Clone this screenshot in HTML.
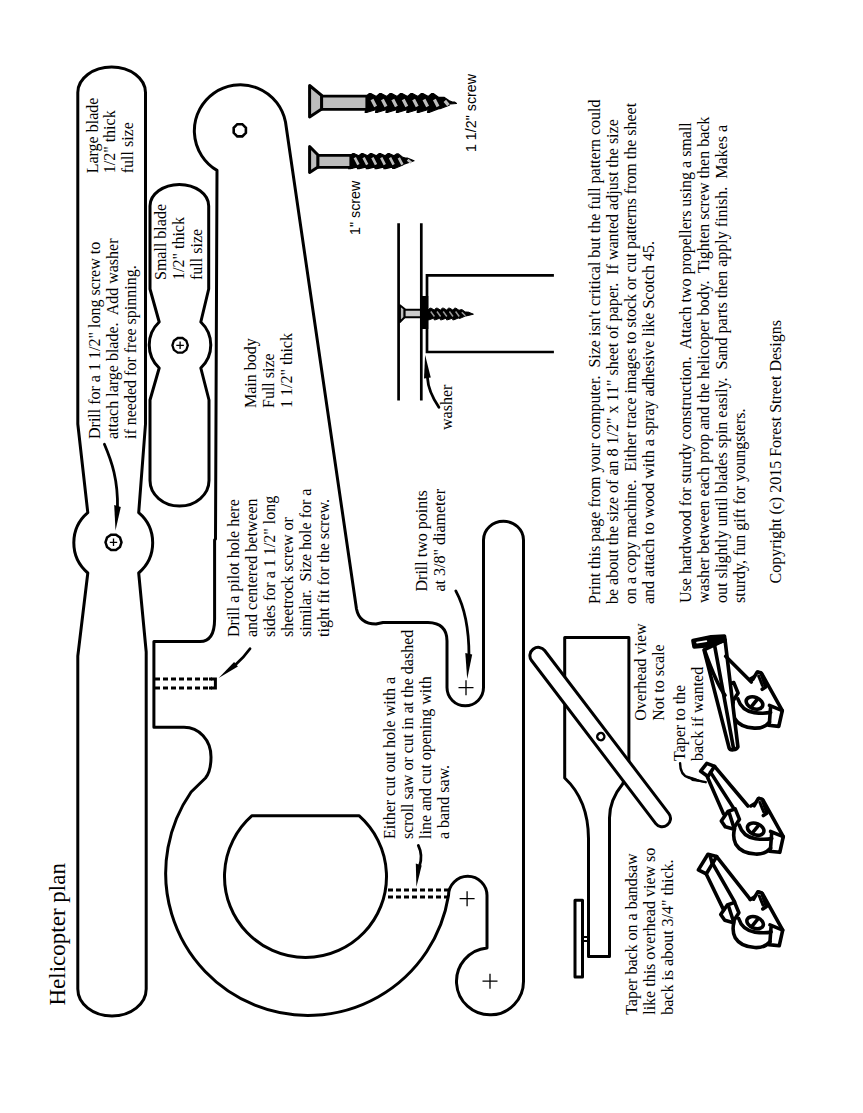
<!DOCTYPE html>
<html><head><meta charset="utf-8">
<style>
html,body{margin:0;padding:0;background:#fff;}
svg{display:block;}
text{white-space:pre;font-family:"Liberation Serif",serif;font-size:16px;fill:#000;}
</style></head>
<body>
<svg width="863" height="1113" viewBox="0 0 863 1113">
<rect width="863" height="1113" fill="#fff"/>
<g fill="none" stroke="#000" stroke-width="3" stroke-linejoin="round">
<!-- large blade -->
<path id="lb" d="M77.8,92.5 A33.85,25.5 0 0 1 145.5,92.5 L145.5,424 L138.7,512.7 A39.5,39.5 0 0 1 138.7,573 L146.2,652 L146.2,989 A34.2,27 0 0 1 77.8,989 L77.8,656 L87.8,573 A39.5,39.5 0 0 1 87.8,512.7 L77.8,424 Z"/>
<!-- small blade -->
<path id="sb" d="M150,206 A29.35,21.5 0 0 1 208.7,206 L208.7,289 L200.8,322 A31.5,31.5 0 0 1 200.8,368 L209,400 L209,480.5 A29.5,25.5 0 0 1 150,480.5 L150,400 L159.2,368 A31.5,31.5 0 0 1 159.2,322 L150,289 Z"/>
<!-- main body -->
<path id="mb" d="M217,170.4 A46,46 0 1 1 285.5,122 L356.5,609 Q359.5,624 376,624 L383,622.5 L428,622.5 Q447,623 447,641 L447,687.6 A18.25,18.25 0 0 0 483.5,687.6 L483.5,540 A20,18.7 0 0 1 523.5,540 L523.5,981 A33.5,33.5 0 1 1 487,948 L487,895.6 A19.25,19.25 0 0 0 448.5,895.6 A142.3,142.3 0 1 1 191.1,792 L205.5,778 C209.5,773 211,766 211,757 C211,740 199,727.3 184,727.3 L153.9,727.3 L153.9,641.5 L200,641.5 Q214.6,641.5 214.6,619 L214.6,540 L215.5,539 Z"/>
<!-- inner hole -->
<path d="M252,815.7 L359,815.7 A81,81 0 1 1 252,815.7 Z"/>
</g>
<!-- holes / pluses -->
<g fill="none" stroke="#000" stroke-width="2.5">
<polygon points="245.90,132.83 242.33,136.40 237.27,136.40 233.70,132.83 233.70,127.77 237.27,124.20 242.33,124.20 245.90,127.77" stroke-width="2.6"/>
<polygon points="121.50,542.30 119.97,547.00 115.97,549.91 111.03,549.91 107.03,547.00 105.50,542.30 107.03,537.60 111.03,534.69 115.97,534.69 119.97,537.60" stroke-width="2.5"/>
<polygon points="187.80,345.30 186.33,349.83 182.48,352.62 177.72,352.62 173.87,349.83 172.40,345.30 173.87,340.77 177.72,337.98 182.48,337.98 186.33,340.77" stroke-width="2.3"/>
</g>
<g stroke="#000" stroke-width="1.3">
<path d="M109.8,542.3 H117.2 M113.5,538.6 V546"/>
<path d="M176.3,345.3 H183.9 M180.1,341.5 V349.1"/>
<path d="M458.5,687.7 H473.5 M466,680.2 V695.2"/>
<path d="M459.6,898.7 H474.6 M467.1,891.2 V906.2"/>
<path d="M482.5,981.2 H497.5 M490,973.7 V988.7"/>
</g>
<!-- dashed -->
<g fill="none" stroke="#000" stroke-width="3" stroke-dasharray="5,3">
<path d="M155,679.1 H212 M155,688.1 H212"/><path d="M209,679.1 H215.4 V688.1 H209" stroke-dasharray="none"/>
<path d="M388,890 H449 M388,897 H449"/>
</g>

<!-- arrows -->
<g fill="none" stroke="#000" stroke-width="2.8" stroke-linecap="round">
<path d="M104.4,444.3 C112,462 118,480 117.5,508"/>
<path d="M250,648.7 Q244,657 236,664.3"/>
<path d="M455.8,590.9 C464,606 469,628 469,656"/>
<path d="M418.3,845.4 C421.5,852 421.5,860 419.5,866"/>
<path d="M438.9,407.3 C432,397 428,388 427.5,378"/>
<path d="M680.1,763.1 C680,772 683,776 689,777.8 C695,779.5 700,781 705.7,782.2" stroke-width="2.4"/>
</g>
<g fill="#000" stroke="none">
<path d="M114.2,505 L120.8,507 L115.5,530.5 Z"/>
<path d="M237.9,666.6 L234.1,662 L218.7,678 Z"/>
<path d="M465.3,653 L472.2,654.5 L467.2,679 Z"/>
<path d="M415.8,863.5 L421.7,865.5 L416.4,887 Z"/>
<path d="M424,378.5 L430.8,377.5 L425.1,355.1 Z"/>
<path d="M687,775.5 L695,778 L706,782.8 L692,781 Z"/>
</g>
<!-- screws -->
<g stroke="#000" stroke-linejoin="round">
<path d="M309.6,85.5 L321.7,95.5 L321.7,109 L309.6,117 Z" fill="#bdbdbd" stroke-width="3"/>
<path d="M321.7,96.2 H368 V109.4 H321.7 Z" fill="#bdbdbd" stroke-width="2.8"/>
<path d="M366.0,96.5 L369.1,93.7 L371.2,93.7 L376.4,96.5 L379.5,93.7 L381.6,93.7 L386.8,96.5 L389.9,93.7 L392.0,93.7 L397.2,96.5 L400.3,93.7 L402.4,93.7 L407.6,96.5 L410.7,93.7 L412.8,93.7 L418.0,96.5 L421.1,93.7 L423.2,93.7 L428.4,96.5 L431.5,93.7 L433.6,93.7 L438.8,97.4 L441.9,97.3 L444.0,97.3 L449.2,100.7 L452.3,102.0 L454.4,102.0 L456.5,103.5 L450.4,104.0 L448.3,104.0 L449.2,105.3 L440.0,108.7 L437.9,108.7 L438.8,108.6 L429.6,112.3 L427.5,112.3 L428.4,109.5 L419.2,112.3 L417.1,112.3 L418.0,109.5 L408.8,112.3 L406.7,112.3 L407.6,109.5 L398.4,112.3 L396.3,112.3 L397.2,109.5 L388.0,112.3 L385.9,112.3 L386.8,109.5 L377.6,112.3 L375.5,112.3 L376.4,109.5 L367.2,112.3 L365.1,112.3 L366.0,109.5 Z" fill="#000" stroke-width="1.2"/>
<path d="M309.6,146.5 L318,155 L318,167 L309.6,172.5 Z" fill="#bdbdbd" stroke-width="3"/>
<path d="M318,155.3 H352 V167.3 H318 Z" fill="#bdbdbd" stroke-width="2.8"/>
<path d="M350.0,155.7 L352.6,153.7 L354.4,153.7 L358.8,155.7 L361.4,153.7 L363.2,153.7 L367.6,155.7 L370.2,153.7 L372.0,153.7 L376.4,155.7 L379.0,153.7 L380.8,153.7 L385.2,155.7 L387.8,153.7 L389.6,153.7 L394.0,155.7 L396.6,153.9 L398.4,153.9 L402.8,157.4 L405.4,158.0 L407.2,158.0 L414.0,160.8 L403.2,164.4 L401.4,164.4 L402.8,165.0 L394.4,168.5 L392.6,168.5 L394.0,166.7 L385.6,168.7 L383.8,168.7 L385.2,166.7 L376.8,168.7 L375.0,168.7 L376.4,166.7 L368.0,168.7 L366.2,168.7 L367.6,166.7 L359.2,168.7 L357.4,168.7 L358.8,166.7 L350.4,168.7 L348.6,168.7 L350.0,166.7 Z" fill="#000" stroke-width="1.2"/>
<path d="M399.9,305.3 L404.6,309 L404.6,317.3 L399.9,322 Z" fill="#bdbdbd" stroke-width="2"/>
<path d="M404.6,309.8 H421 V317.2 H404.6 Z" fill="#ccc" stroke-width="2"/>
<path d="M428.0,310.0 L429.9,308.2 L431.1,308.2 L434.2,310.0 L436.1,308.2 L437.3,308.2 L440.4,310.0 L442.3,308.2 L443.5,308.2 L446.6,310.0 L448.5,308.2 L449.7,308.2 L452.8,310.0 L454.7,308.2 L455.9,308.2 L459.0,310.3 L460.9,309.7 L462.1,309.7 L465.2,311.9 L467.1,312.1 L468.3,312.1 L473.4,314.2 L466.3,315.9 L465.1,315.9 L465.2,316.1 L460.1,318.3 L458.9,318.3 L459.0,317.7 L453.9,319.8 L452.7,319.8 L452.8,318.0 L447.7,319.8 L446.5,319.8 L446.6,318.0 L441.5,319.8 L440.3,319.8 L440.4,318.0 L435.3,319.8 L434.1,319.8 L434.2,318.0 L429.1,319.8 L427.9,319.8 L428.0,318.0 Z" fill="#000" stroke-width="1"/>
</g>
<g fill="none" stroke="#bdbdbd" stroke-width="3.2">
<path d="M372.0,99.5 L375.6,106.5 M382.4,99.5 L386.0,106.5 M392.8,99.5 L396.4,106.5 M403.2,99.5 L406.8,106.5 M413.6,99.5 L417.2,106.5 M424.0,99.5 L427.6,106.5 M434.4,99.5 L438.0,106.5 M444.8,100.9 L448.4,105.1"/>
<path d="M354.8,157.7 L358.4,164.7 M363.6,157.7 L367.2,164.7 M372.4,157.7 L376.0,164.7 M381.2,157.7 L384.8,164.7 M390.0,157.7 L393.6,164.7 M398.8,157.8 L402.4,164.6 M407.6,159.7 L411.2,162.7" stroke-width="2.6"/>
</g>
<g fill="none" stroke="#999" stroke-width="1.5"><path d="M430.8,311.5 L434.4,316.5 M437.0,311.5 L440.6,316.5 M443.2,311.5 L446.8,316.5 M449.4,311.5 L453.0,316.5 M455.6,311.5 L459.2,316.5 M461.8,312.2 L465.4,315.8"/></g>
<!-- cross section -->
<g fill="none" stroke="#000" stroke-width="2.7">
<path d="M398.6,223.2 V400.5 M421.3,223.2 V400.5"/>
<path d="M553.9,275.4 H427 V352 H553.9"/>
</g>
<rect x="421" y="296" width="7.3" height="33" fill="#000"/>
<!-- overhead view -->
<g fill="none" stroke="#000" stroke-width="3" stroke-linejoin="round">
<path d="M564.7,637.5 H628.9 V765 L622.8,783.8 Q609.5,800 609.5,818 V956.5 H588.5 V838.6 Q588.3,800 564.7,778 Z" fill="#fff"/>
<rect x="575" y="900.3" width="7.5" height="76.7" fill="#fff"/>
<path d="M583,937 H588.5 M583,941 H588.5" stroke-width="1.8"/>
<g transform="translate(600.8,736.6) rotate(52.7)">
<rect x="-110.5" y="-7.5" width="221" height="16.5" rx="8" fill="#fff"/>
<circle cx="0" cy="0" r="3.6" stroke-width="2.4"/>
</g>
</g>

<!-- helicopters -->
<defs>
<g id="hbody" fill="none" stroke="#000" stroke-width="31" stroke-linejoin="round" stroke-linecap="round">
<path d="M520,470 L570,440 L592,405 L625,420 L800,735 L770,870 L680,860 L690,835 C660,870 620,888 560,885 C480,880 420,850 390,800 C370,760 365,720 380,665"/>
<path d="M265,600 L322,518 L385,495 L422,585 L368,668 L300,650 Z" fill="#fff"/>
<path d="M335,535 L372,650"/>
<path d="M420,635 C440,700 480,740 560,752 C620,760 660,760 700,750"/>
<path d="M690,690 L800,735 M700,700 L690,835"/>
<path d="M548,468 L585,405 L618,412 L660,530 L628,552" fill="#fff"/><path d="M598,440 L632,525" stroke-width="26" stroke-dasharray="14,10"/>
<ellipse cx="562" cy="670" rx="74" ry="49" transform="rotate(22 562 670)"/>
<path d="M532,705 L585,640"/>
</g>
</defs>
<!-- H3 -->
<g transform="translate(690,845) scale(0.11588)">
<use href="#hbody"/>
<g fill="none" stroke="#000" stroke-width="31" stroke-linejoin="round" stroke-linecap="round">
<path d="M72,215 L155,80 L230,100 L140,250 Z" fill="#fff"/>
<path d="M170,85 L190,150"/>
<path d="M140,250 L290,560 M230,100 L520,470 M190,150 L385,490"/>
</g>
</g>
<!-- H2 -->
<g transform="translate(690,755) scale(0.11588)">
<g transform="translate(5,-30)"><use href="#hbody"/></g>
<g fill="none" stroke="#000" stroke-width="31" stroke-linejoin="round" stroke-linecap="round">
<path d="M92,140 L145,72 L212,98 L155,185 Z" fill="#fff"/>
<path d="M150,190 L290,510 M212,98 L500,440 M178,150 L380,465"/>
</g>
</g>
<!-- H1 -->
<g transform="translate(690,630) scale(0.11682)">
<g transform="translate(-10,-45)"><use href="#hbody"/></g>
<g fill="none" stroke="#000" stroke-width="31" stroke-linejoin="round" stroke-linecap="round">
<path d="M120,170 L335,1010 C345,1035 395,1030 410,1000 L300,85 Z" fill="#fff"/>
<path d="M210,130 L372,1010"/><path d="M305,225 L525,445"/><path d="M125,175 C180,330 240,480 300,560"/>
<path d="M25,90 L180,58 L295,52 L300,88 L160,135 L35,145 Z" fill="#000"/><path d="M60,108 L140,95" stroke="#fff" stroke-width="14"/>
</g>
</g>
<!-- texts -->
<g transform="translate(97.6,173.3) rotate(-90)"><text><tspan x="0" y="0">Large blade</tspan><tspan x="0" y="17.6">1/2" thick</tspan><tspan x="0" y="35.2">full size</tspan></text></g>
<g transform="translate(166.4,280) rotate(-90)"><text><tspan x="0" y="0">Small blade</tspan><tspan x="0" y="17.8">1/2" thick</tspan><tspan x="0" y="35.6">full size</tspan></text></g>
<g transform="translate(99.6,439) rotate(-90)"><text><tspan x="0" y="0">Drill for a 1 1/2" long screw to</tspan><tspan x="0" y="18">attach large blade.  Add washer</tspan><tspan x="0" y="36">if needed for free spinning.</tspan></text></g>
<g transform="translate(256,408) rotate(-90)"><text><tspan x="0" y="0">Main body</tspan><tspan x="0" y="18">Full size</tspan><tspan x="0" y="36">1 1/2" thick</tspan></text></g>
<g transform="translate(239.2,637) rotate(-90)"><text><tspan x="0" y="0">Drill a pilot hole here</tspan><tspan x="0" y="18">and centered between</tspan><tspan x="0" y="36">sides for a 1 1/2" long</tspan><tspan x="0" y="54">sheetrock screw or</tspan><tspan x="0" y="72">similar.  Size hole for a</tspan><tspan x="0" y="90">tight fit for the screw.</tspan></text></g>
<g transform="translate(426.9,591.5) rotate(-90)"><text><tspan x="0" y="0">Drill two points</tspan><tspan x="0" y="18">at 3/8" diameter</tspan></text></g>
<g transform="translate(394.7,839) rotate(-90)"><text><tspan x="0" y="0">Either cut out hole with a</tspan><tspan x="0" y="18">scroll saw or cut in at the dashed</tspan><tspan x="0" y="36">line and cut opening with</tspan><tspan x="0" y="54">a band saw.</tspan></text></g>
<g transform="translate(452,430) rotate(-90)"><text>washer</text></g>
<g transform="translate(476.4,152.1) rotate(-90)"><text style="font-family:'Liberation Sans',sans-serif;font-size:14.3px">1 1/2" screw</text></g>
<g transform="translate(360,235) rotate(-90)"><text style="font-family:'Liberation Sans',sans-serif;font-size:14.3px">1" screw</text></g>
<g transform="translate(600,604) rotate(-90)"><text><tspan x="0" y="0">Print this page from your computer.  Size isn't critical but the full pattern could</tspan><tspan x="0" y="18">be about the size of an 8 1/2" x 11" sheet of paper.  If wanted adjust the size</tspan><tspan x="0" y="36">on a copy machine.  Either trace images to stock or cut patterns from the sheet</tspan><tspan x="0" y="54">and attach to wood with a spray adhesive like Scotch 45.</tspan></text></g>
<g transform="translate(690.8,603) rotate(-90)"><text><tspan x="0" y="0">Use hardwood for sturdy construction.  Attach two propellers using a small</tspan><tspan x="0" y="18">washer between each prop and the helicoper body.  Tighten screw then back</tspan><tspan x="0" y="36">out slightly until blades spin easily.  Sand parts then apply finish.  Makes a</tspan><tspan x="0" y="54">sturdy, fun gift for youngsters.</tspan></text></g>
<g transform="translate(781,583.5) rotate(-90)"><text>Copyright (c) 2015 Forest Street Designs</text></g>
<g transform="translate(646,720.7) rotate(-90)"><text><tspan x="0" y="0">Overhead view</tspan><tspan x="0" y="17.8">Not to scale</tspan></text></g>
<g transform="translate(685,761) rotate(-90)"><text><tspan x="0" y="0">Taper to the</tspan><tspan x="0" y="18">back if wanted</tspan></text></g>
<g transform="translate(636.6,1014.8) rotate(-90)"><text><tspan x="0" y="0">Taper back on a bandsaw</tspan><tspan x="0" y="18">like this overhead view so</tspan><tspan x="0" y="36">back is about 3/4" thick.</tspan></text></g>
<g transform="translate(65,1005.5) rotate(-90)"><text style="font-size:23px">Helicopter plan</text></g>
</svg>
</body></html>
